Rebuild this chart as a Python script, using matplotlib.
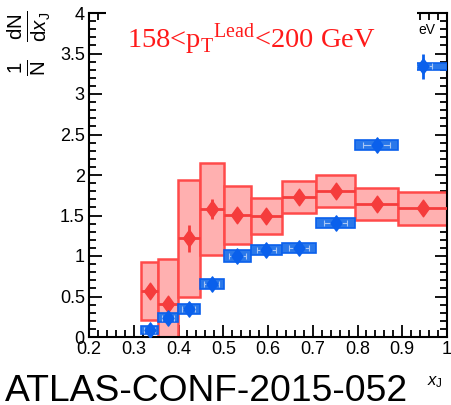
import numpy as np
import matplotlib
matplotlib.use("Agg")
import matplotlib.pyplot as plt
from matplotlib.patches import Rectangle
from matplotlib.path import Path
from matplotlib.ticker import MultipleLocator

plt.rcParams["font.family"] = ["Liberation Sans", "DejaVu Sans"]
plt.rcParams["mathtext.fontset"] = "custom"
plt.rcParams["mathtext.rm"] = "Liberation Serif"
plt.rcParams["mathtext.sf"] = "Liberation Sans"
plt.rcParams["mathtext.it"] = "Liberation Sans:italic"

# x_J bins (log spaced)
bin_lo = [0.316, 0.355, 0.398, 0.447, 0.501, 0.562, 0.631, 0.708, 0.794, 0.891]
bin_hi = [0.355, 0.398, 0.447, 0.501, 0.562, 0.631, 0.708, 0.794, 0.891, 1.0]

# Pb+Pb (red)
pbpb_val = [0.57, 0.41, 1.22, 1.58, 1.51, 1.49, 1.73, 1.80, 1.64, 1.59]
pbpb_stat = [0.06, 0.05, 0.165, 0.12, 0.05, 0.05, 0.04, 0.04, 0.03, 0.03]
pbpb_sys = [0.36, 0.55, 0.72, 0.57, 0.36, 0.22, 0.20, 0.20, 0.195, 0.205]

# pp (blue)
pp_val = [0.09, 0.24, 0.35, 0.65, 1.00, 1.07, 1.10, 1.41, 2.37, 3.34]
pp_stat = [0.02, 0.02, 0.03, 0.03, 0.03, 0.03, 0.03, 0.03, 0.04, 0.15]
pp_sys = [0.05, 0.06, 0.06, 0.06, 0.07, 0.06, 0.06, 0.06, 0.06, 0.04]
pp_box_lo = [0.316, 0.355, 0.398, 0.447, 0.501, 0.562, 0.631, 0.708, 0.794, 0.93]

RED = "#f53c3c"
RED_FILL = "#ffb0b0"
BLUE = "#0a60ec"
BLUE_FILL = "#2a78ea"
BLUE_LINE = "#a9c6f5"

lo = np.array(bin_lo)
hi = np.array(bin_hi)
xc = (lo + hi) / 2
hw = (hi - lo) / 2

def diamond(w):
    return Path([(0, 1), (w, 0), (0, -1), (-w, 0), (0, 1)],
                [Path.MOVETO, Path.LINETO, Path.LINETO, Path.LINETO, Path.CLOSEPOLY])

fig = plt.figure(figsize=(4.51, 4.05), dpi=100)
ax = fig.add_axes([89 / 451, 68 / 405, 358 / 451, 324 / 405])

# Pb+Pb systematic boxes
for l, h, v, s in zip(bin_lo, bin_hi, pbpb_val, pbpb_sys):
    ax.add_patch(Rectangle((l, v - s), h - l, 2 * s, facecolor=RED_FILL,
                           edgecolor="#ff4a4a", lw=1.8, zorder=2))
ax.errorbar(xc, pbpb_val, xerr=hw, yerr=pbpb_stat, fmt="none", ecolor=RED,
            elinewidth=2, capsize=0, zorder=3)
ax.plot(xc, pbpb_val, ls="none", marker=diamond(0.72), ms=12, color=RED,
        mec=RED, zorder=4)

# pp systematic boxes
pp_lo = np.array(pp_box_lo)
for l, h, v, s in zip(pp_box_lo, bin_hi, pp_val, pp_sys):
    ax.add_patch(Rectangle((l, v - s), h - l, 2 * s, facecolor=BLUE_FILL,
                           edgecolor=BLUE, lw=1.2, zorder=5))
ax.errorbar(xc, pp_val, xerr=0.6 * (hi - pp_lo) / 2, fmt="none", ecolor=BLUE_LINE,
            elinewidth=0.8, capsize=2, capthick=0.8, zorder=6)
ax.errorbar(xc, pp_val, yerr=pp_stat, fmt="none", ecolor=BLUE,
            elinewidth=2, capsize=0, zorder=7)
ax.plot(xc, pp_val, ls="none", marker=diamond(0.72), ms=11, color=BLUE,
        mec=BLUE, zorder=8)

ax.set_xlim(0.2, 1.0)
ax.set_ylim(0, 4)
ax.xaxis.set_major_locator(MultipleLocator(0.1))
ax.xaxis.set_minor_locator(MultipleLocator(0.02))
ax.yaxis.set_major_locator(MultipleLocator(0.5))
ax.yaxis.set_minor_locator(MultipleLocator(0.1))
ax.xaxis.set_major_formatter(plt.FuncFormatter(lambda v, _: f"{v:g}"))
ax.yaxis.set_major_formatter(plt.FuncFormatter(lambda v, _: f"{v:g}"))
ax.tick_params(which="both", direction="in", top=True, right=True,
               width=1.3, labelsize=13, colors="black")
ax.tick_params(which="major", length=9, pad=3)
ax.tick_params(which="minor", length=5)
for sp in ax.spines.values():
    sp.set_linewidth(1.5)

# legend area, blanked out
fig.patches.append(Rectangle((106 / 451, 330 / 405), 311 / 451, 80 / 405,
                             transform=fig.transFigure, facecolor="white",
                             edgecolor="none", zorder=10))
fig.text(127 / 451, 1 - 48 / 405,
         r"158<p$_\mathrm{T}$${}^\mathrm{Lead}$<200 GeV",
         family="Liberation Serif", color="#ff1a1a", fontsize=20.5,
         va="baseline", ha="left", zorder=11)
fig.text(427 / 451, 1 - 30 / 405, "eV", fontsize=10, ha="center",
         va="center", zorder=11)

fig.text(29 / 451, 1 - 10 / 405,
         r"$\frac{\mathsf{1}}{\mathsf{N}}\ \ \frac{\mathsf{dN}}{\mathsf{d}\mathit{x}_\mathsf{J}}$",
         rotation=90, ha="center", va="top", fontsize=21)
fig.text(435 / 451, 1 - 382 / 405, r"$\mathit{x}_{\mathsf{J}}$", fontsize=12,
         ha="center", va="center")
fig.text(5 / 451, 4 / 405, "ATLAS-CONF-2015-052", fontsize=26.8,
         ha="left", va="baseline")

fig.savefig("out.png", dpi=100)
